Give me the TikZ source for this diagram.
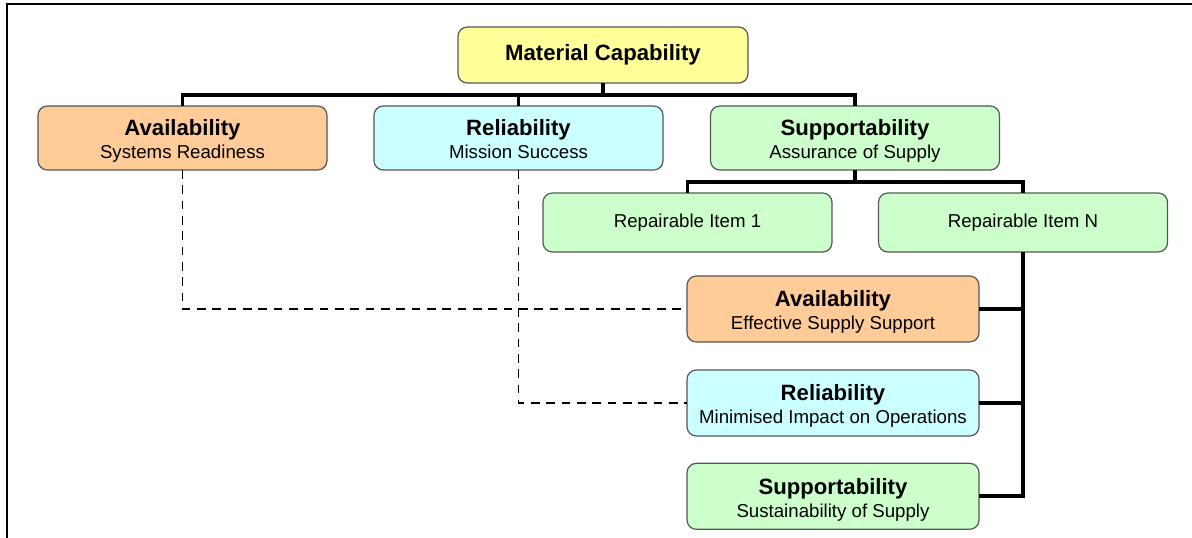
\documentclass[tikz,border=0pt]{standalone}
\usepackage{fontspec}
\setmainfont{Liberation Sans}
\usetikzlibrary{positioning}
\definecolor{capyellow}{RGB}{255,255,153}
\definecolor{availorange}{RGB}{255,204,153}
\definecolor{relicyan}{RGB}{204,255,255}
\definecolor{suppgreen}{RGB}{204,255,204}
\definecolor{edgegray}{RGB}{85,85,85}
\newcommand{\headfont}{\fontsize{16.6}{17.25}\selectfont\bfseries}
\newcommand{\subfont}{\fontsize{14}{17.25}\selectfont}
\newcommand{\twoline}[2]{{\headfont\rule{0pt}{17.5pt}#1}\\{\subfont\rule[-3.5pt]{0pt}{1pt}#2}}

\begin{document}
\begin{tikzpicture}[
		x=0.75pt, y=-0.75pt,
		box/.style={draw=edgegray, line width=0.9pt, rounded corners=7pt, align=center, inner sep=2pt, outer sep=0pt, font=\subfont},
		top/.style={box, fill=capyellow, minimum width=217.5pt, minimum height=42pt, font=\headfont},
		avl/.style={box, fill=availorange},
		rel/.style={box, fill=relicyan},
		sup/.style={box, fill=suppgreen},
		first/.style={minimum width=216.75pt, minimum height=48pt},
		item/.style={sup, minimum width=216.75pt, minimum height=44.25pt},
		third/.style={minimum width=219pt, minimum height=49.5pt},
		link/.style={line width=2.8pt},
		trace/.style={line width=1.4pt, dash pattern=on 6.5pt off 5pt}
		]
		
		% ==========================================
		% FRAME
		% ==========================================
		\useasboundingbox (0,0) rectangle (1192,538);
		\draw[line width=1.8pt] (7,538) -- (7,4) -- (1192,4);
		
		% ==========================================
		% TOP LEVEL
		% ==========================================
		\node[top] (mc) at (603,55) {Material Capability};
		
		\node[avl, first] (av1) at (182.5,138) {\twoline{Availability}{Systems Readiness}};
		\node[rel, first] (rel1) at (518.5,138) {\twoline{Reliability}{Mission Success}};
		\node[sup, first] (sup1) at (855,138) {\twoline{Supportability}{Assurance of Supply}};
		
		\coordinate (bus1) at (603,95);
		\draw[link] (mc.south) -- (bus1);
		\draw[link] (av1.north) |- (bus1) -| (sup1.north);
		\draw[link] (rel1.north) -- (rel1.north |- bus1);
		
		% ==========================================
		% REPAIRABLE ITEMS
		% ==========================================
		\node[item] (rep1) at (687.5,222.5) {Repairable Item 1};
		\node[item] (repn) at (1023,222.5) {Repairable Item N};
		
		\coordinate (bus2) at (855,182);
		\draw[link] (sup1.south) -- (bus2);
		\draw[link] (rep1.north) |- (bus2) -| (repn.north);
		
		% ==========================================
		% ITEM LEVEL MEASURES
		% ==========================================
		\node[avl, third] (av2) at (833,309) {\twoline{Availability}{Effective Supply Support}};
		\node[rel, third, below=21pt of av2] (rel2) {\twoline{Reliability}{Minimised Impact on Operations}};
		\node[sup, third, below=20.5pt of rel2] (sup2) {\twoline{Supportability}{Sustainability of Supply}};
		
		\draw[link] (repn.south) |- (sup2.east);
		\draw[link] (av2.east) -- (av2.east -| repn.south);
		\draw[link] (rel2.east) -- (rel2.east -| repn.south);
		
		% dashed traces from the system level down to the item level
		\draw[trace] (av1.south) |- (av2.west);
		\draw[trace] (rel1.south) |- (rel2.west);
		
	\end{tikzpicture}
\end{document}
